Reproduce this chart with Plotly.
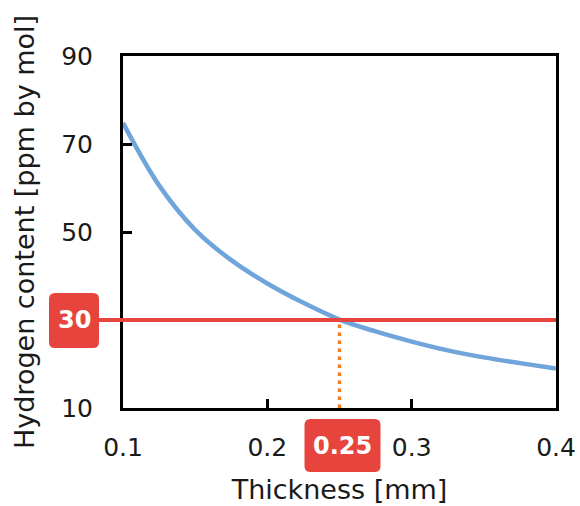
import plotly.graph_objects as go

# Data
thickness_mm = [0.100, 0.125, 0.150, 0.175, 0.200, 0.225, 0.250, 0.275, 0.300, 0.325, 0.350, 0.375, 0.400]
hydrogen_ppm = [74.8, 60.6, 50.5, 43.6, 38.3, 33.9, 30.1, 27.4, 25.1, 23.1, 21.5, 20.2, 19.0]

target_ppm = 30
target_thickness = 0.25

x_ticks = [0.1, 0.2, 0.3, 0.4]
x_tick_labels = ["0.1", "0.2", "0.3", "0.4"]
y_ticks = [10, 30, 50, 70, 90]
y_tick_labels = ["10", "", "50", "70", "90"]

x_range = [0.1, 0.4]
y_range = [10, 90]

BLUE = "#6FA5DA"
RED = "#E8443E"
ORANGE = "#EE7F22"
FONT = "DejaVu Sans"

fig = go.Figure()

fig.add_trace(go.Scatter(
    x=thickness_mm, y=hydrogen_ppm, mode="lines",
    line=dict(color=BLUE, width=4.5, shape="spline", smoothing=1.0),
    showlegend=False, hoverinfo="skip", cliponaxis=True,
))

# dotted vertical from x-axis up to target
fig.add_trace(go.Scatter(
    x=[target_thickness, target_thickness], y=[y_range[0], target_ppm], mode="lines",
    line=dict(color=ORANGE, width=3.5, dash="3.5px,4.5px"),
    showlegend=False, hoverinfo="skip", cliponaxis=False,
))

# red horizontal target line (extends left to the label box)
fig.add_shape(type="line", xref="paper", yref="y",
              x0=0, x1=1, y0=target_ppm, y1=target_ppm,
              line=dict(color=RED, width=4), layer="above")
fig.add_shape(type="line", xref="paper", yref="y", xsizemode="pixel", xanchor=0,
              x0=-28, x1=0, y0=target_ppm, y1=target_ppm,
              line=dict(color=RED, width=4), layer="above")


def rounded_path(x0, y0, x1, y1, r):
    return (f"M{x0+r},{y0} L{x1-r},{y0} Q{x1},{y0} {x1},{y0+r} "
            f"L{x1},{y1-r} Q{x1},{y1} {x1-r},{y1} L{x0+r},{y1} "
            f"Q{x0},{y1} {x0},{y1-r} L{x0},{y0+r} Q{x0},{y0} {x0+r},{y0} Z")


# "30" label box at left of plot
fig.add_shape(type="path", xref="paper", yref="y",
              xsizemode="pixel", ysizemode="pixel", xanchor=0, yanchor=target_ppm,
              path=rounded_path(-74, -28, -24, 27, 6),
              fillcolor=RED, line=dict(width=0), layer="above")
fig.add_annotation(xref="paper", yref="y", x=0, y=target_ppm, xshift=-49, yshift=0,
                   xanchor="center", yanchor="middle",
                   text="<b>30</b>", showarrow=False,
                   font=dict(family=FONT, size=24, color="white"))

# "0.25" label box below axis
px = (target_thickness - x_range[0]) / (x_range[1] - x_range[0])
fig.add_shape(type="path", xref="paper", yref="paper",
              xsizemode="pixel", ysizemode="pixel", xanchor=px, yanchor=0,
              path=rounded_path(-35, -64, 41, -11, 6),
              fillcolor=RED, line=dict(width=0), layer="above")
fig.add_annotation(xref="paper", yref="paper", x=px, y=0, xshift=3, yshift=-38,
                   xanchor="center", yanchor="middle",
                   text="<b>0.25</b>", showarrow=False,
                   font=dict(family=FONT, size=24, color="white"))

fig.update_layout(
    width=580, height=506,
    margin=dict(l=123, r=24, t=56, b=98),
    paper_bgcolor="white", plot_bgcolor="white",
    font=dict(family=FONT, size=25, color="#1a1a1a"),
    xaxis=dict(
        range=x_range, tickvals=x_ticks, ticktext=x_tick_labels,
        ticks="inside", ticklen=9, tickwidth=2.5, tickcolor="black",
        showline=True, linecolor="black", linewidth=3, mirror=True,
        showgrid=False, zeroline=False, automargin=False,
        ticklabelstandoff=15,
        title=dict(text="Thickness [mm]", font=dict(size=27), standoff=20),
        tickfont=dict(size=25),
    ),
    yaxis=dict(
        range=y_range, tickvals=y_ticks, ticktext=y_tick_labels,
        ticks="inside", ticklen=9, tickwidth=2.5, tickcolor="black",
        showline=True, linecolor="black", linewidth=3, mirror=True,
        showgrid=False, zeroline=False, automargin=False,
        ticklabelstandoff=22,
        title=dict(text="Hydrogen content [ppm by mol]", font=dict(size=27), standoff=19),
        tickfont=dict(size=25),
    ),
)

fig.write_html("out.html", config={"displayModeBar": False},
               post_script="document.body.style.margin='0';document.body.style.overflow='hidden';")
